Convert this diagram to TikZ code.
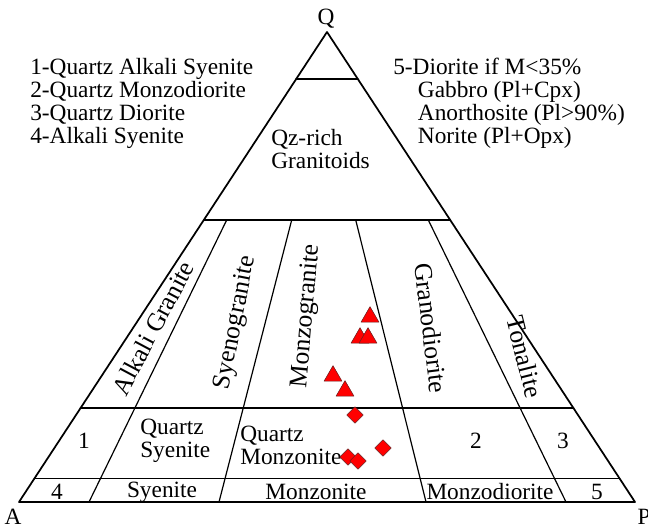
\documentclass[tikz,border=0pt]{standalone}
\usepackage{fontspec}
\setmainfont{Liberation Serif}
\usepackage{tikz}
\usetikzlibrary{calc,shapes.geometric}
\definecolor{qapred}{HTML}{FF0000}
\definecolor{qapedge}{HTML}{6A2020}
\tikzset{
  every picture/.style={line cap=round, line join=round},
  lbl/.style={font=\rmfamily\fontsize{17.5}{17.25}\selectfont, inner sep=0pt},
  rotlbl/.style={font=\rmfamily\fontsize{19.2}{20}\selectfont, inner sep=0pt},
  fieldline/.style={line width=1.3pt},
  divline/.style={line width=0.9pt},
  tri/.style={regular polygon, regular polygon sides=3, minimum size=15.5pt,
    inner sep=0pt, fill=qapred, draw=qapedge, line width=0.4pt},
  dia/.style={diamond, minimum size=12.5pt, inner sep=0pt,
    fill=qapred, draw=qapedge, line width=0.4pt},
}

\begin{document}
\begin{tikzpicture}[x=0.75pt, y=0.75pt]
\useasboundingbox (0,0) rectangle (648,525);
% corners of the QAP triangle
\coordinate (A) at (19,23);
\coordinate (P) at (635,23);
\coordinate (Q) at (327,493);
% lines of equal Q
\foreach \q/\nm in {0.9/q90, 0.6/q60, 0.2/q20, 0.05/q05} {
  \coordinate (\nm-l) at ($(A)!\q!(Q)$);
  \coordinate (\nm-r) at ($(P)!\q!(Q)$);
}
\draw[fieldline] (A) -- (P) -- (Q) -- cycle;
\foreach \nm in {q90, q60, q20, q05}
  \draw[fieldline] (\nm-l) -- (\nm-r);
% field boundaries below Q = 60
\foreach \xt/\xb [count=\i] in {226.7/89, 291.7/219, 355.7/426, 428.3/566} {
  \coordinate (d\i-t) at (\xt,305);
  \coordinate (d\i-b) at (\xb,23);
  \draw[divline] (d\i-t) -- (d\i-b);
}

% corner labels
\node[lbl, anchor=base] (labq) at (326,500) {Q};
\node[lbl, anchor=base] (laba) at (13,1) {A};
\node[lbl, anchor=base] (labp) at (644,1) {P};

% keys
\node[lbl, anchor=west, align=left] (keyleft) at (30,421.5)
  {1-Quartz Alkali Syenite\\2-Quartz Monzodiorite\\3-Quartz Diorite\\4-Alkali Syenite};
\node[lbl, anchor=west, align=left] (keyright) at (393,421.5)
  {5-Diorite if M<35\%\\\hspace*{18.5pt}Gabbro (Pl+Cpx)\\\hspace*{18.5pt}Anorthosite (Pl>90\%)\\\hspace*{18.5pt}Norite (Pl+Opx)};

% fields
\node[lbl, anchor=west, align=left] (qzrich) at (271,376) {Qz-rich\\Granitoids};
\node[rotlbl, rotate=62] (alkgr) at (153,197) {Alkali Granite};
\node[rotlbl, rotate=79] (syegr) at (236,202) {Syenogranite};
\node[rotlbl, rotate=85] (monzgr) at (307,209) {Monzogranite};
\node[rotlbl, rotate=-83] (grdio) at (431,197) {Granodiorite};
\node[rotlbl, rotate=-76] (tonal) at (525,168) {Tonalite};
\node[lbl] (f1) at (84,84) {1};
\node[lbl, anchor=west, align=left] (qsye) at (140,84) {Quartz\\Syenite};
\node[lbl, anchor=west, align=left] (qmonz) at (240,80) {Quartz\\Monzonite};
\node[lbl] (f2) at (476,84) {2};
\node[lbl] (f3) at (563,84) {3};
\node[lbl] (f4) at (57,33) {4};
\node[lbl] (sye) at (162,33) {Syenite};
\node[lbl] (monz) at (316,33) {Monzonite};
\node[lbl] (monzdio) at (490,33) {Monzodiorite};
\node[lbl] (f5) at (597,33) {5};

% samples
\foreach \x/\y [count=\i] in {370/208, 360/187, 368/187, 333/149, 345/134}
  \node[tri] (tri\i) at (\x,\y) {};
\foreach \x/\y [count=\i] in {355/110, 383/77, 348/68, 358/64}
  \node[dia] (dia\i) at (\x,\y) {};
\end{tikzpicture}
\end{document}
